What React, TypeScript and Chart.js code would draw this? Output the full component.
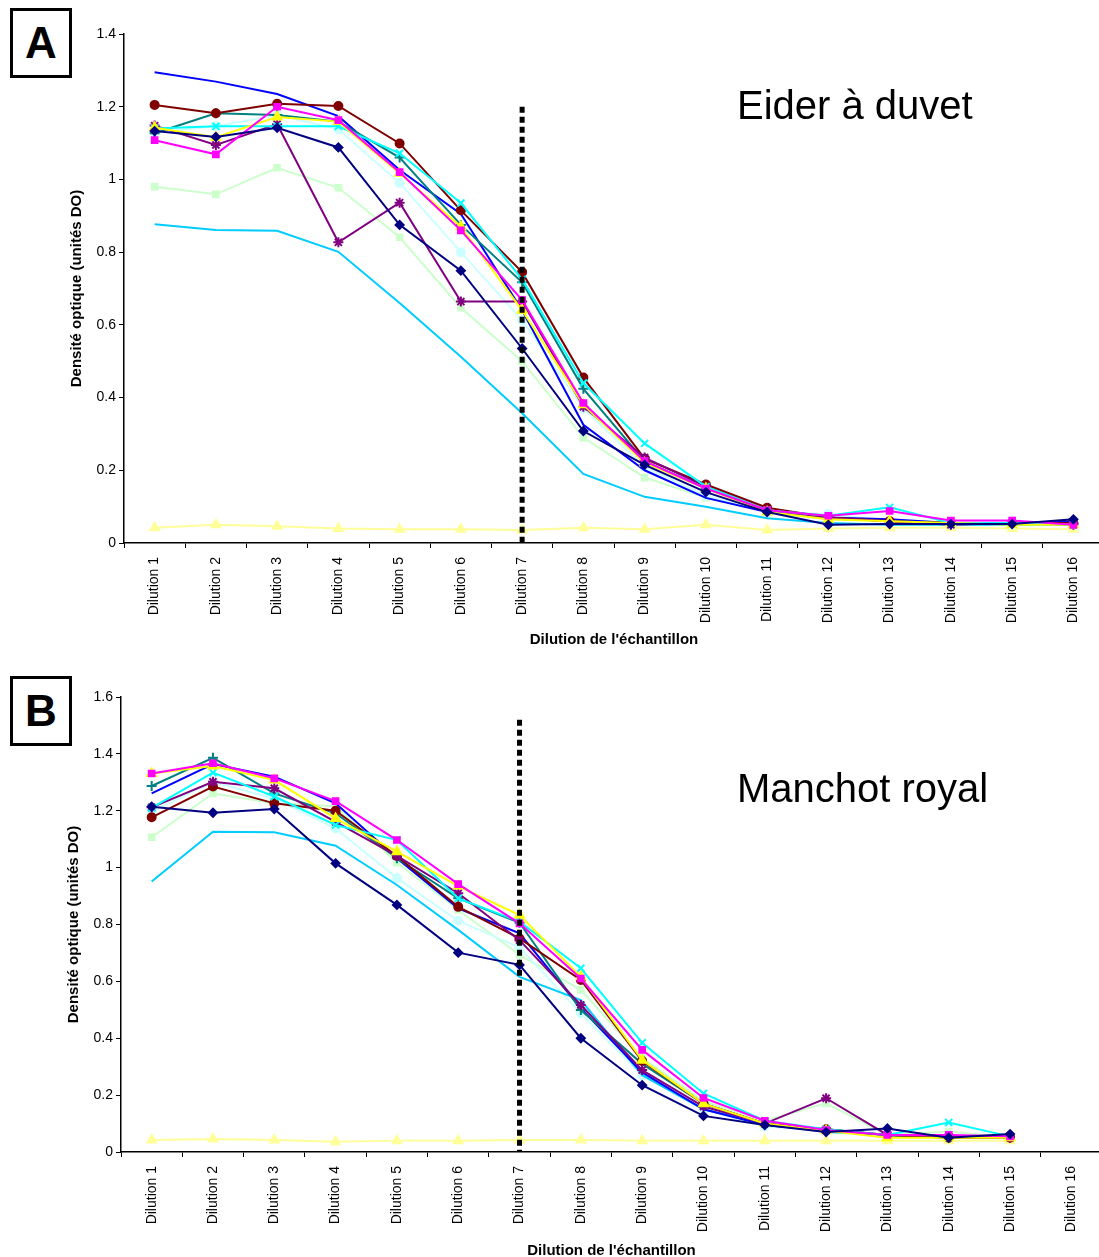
import React, { useEffect, useRef } from 'react';
import { Chart, registerables } from 'chart.js';

Chart.register(...registerables);

// ---------- categories ----------
const dilutions = [
  'Dilution 1', 'Dilution 2', 'Dilution 3', 'Dilution 4', 'Dilution 5', 'Dilution 6',
  'Dilution 7', 'Dilution 8', 'Dilution 9', 'Dilution 10', 'Dilution 11', 'Dilution 12',
  'Dilution 13', 'Dilution 14', 'Dilution 15', 'Dilution 16',
];

// ---------- Panel A : Eider à duvet ----------
const eiderNavy = [1.133, 1.117, 1.142, 1.088, 0.875, 0.749, 0.535, 0.308, 0.215, 0.14, 0.085, 0.05, 0.052, 0.052, 0.052, 0.065];
const eiderMagenta = [1.108, 1.069, 1.2, 1.163, 1.02, 0.86, 0.668, 0.385, 0.225, 0.15, 0.09, 0.075, 0.088, 0.062, 0.062, 0.05];
const eiderYellow = [1.142, 1.116, 1.172, 1.159, 1.017, 0.87, 0.64, 0.38, 0.22, 0.15, 0.085, 0.065, 0.06, 0.055, 0.05, 0.05];
const eiderCyan = [1.14, 1.146, 1.146, 1.146, 1.072, 0.935, 0.725, 0.44, 0.274, 0.155, 0.09, 0.075, 0.098, 0.055, 0.055, 0.05];
const eiderPurple = [1.148, 1.095, 1.152, 0.827, 0.936, 0.664, 0.664, 0.375, 0.235, 0.155, 0.09, 0.07, 0.06, 0.05, 0.055, 0.05];
const eiderDarkRed = [1.205, 1.182, 1.208, 1.202, 1.099, 0.915, 0.745, 0.455, 0.232, 0.161, 0.097, 0.07, 0.06, 0.055, 0.055, 0.055];
const eiderTeal = [1.127, 1.182, 1.177, 1.159, 1.06, 0.875, 0.717, 0.424, 0.225, 0.15, 0.09, 0.07, 0.06, 0.055, 0.055, 0.055];
const eiderBlue = [1.295, 1.269, 1.235, 1.174, 1.026, 0.905, 0.64, 0.325, 0.2, 0.124, 0.085, 0.07, 0.065, 0.055, 0.055, 0.06];
const eiderSkyBlue = [0.877, 0.861, 0.859, 0.801, 0.66, 0.512, 0.357, 0.19, 0.127, 0.1, 0.068, 0.055, 0.05, 0.05, 0.05, 0.05];
const eiderLightCyan = [1.13, 1.146, 1.177, 1.138, 0.99, 0.8, 0.613, 0.37, 0.21, 0.13, 0.085, 0.08, 0.06, 0.05, 0.05, 0.05];
const eiderLightGreen = [0.98, 0.959, 1.032, 0.977, 0.841, 0.647, 0.5, 0.29, 0.18, 0.125, 0.085, 0.065, 0.06, 0.055, 0.05, 0.05];
const eiderLightYellow = [0.042, 0.05, 0.046, 0.04, 0.038, 0.038, 0.036, 0.042, 0.038, 0.05, 0.036, 0.04, 0.042, 0.042, 0.04, 0.038];

// ---------- Panel B : Manchot royal ----------
const manchotNavy = [1.214, 1.193, 1.206, 1.015, 0.869, 0.701, 0.658, 0.4, 0.235, 0.127, 0.095, 0.07, 0.083, 0.05, 0.063, null];
const manchotMagenta = [1.331, 1.367, 1.314, 1.234, 1.097, 0.942, 0.804, 0.61, 0.359, 0.19, 0.11, 0.077, 0.06, 0.06, 0.055, null];
const manchotYellow = [1.331, 1.357, 1.308, 1.173, 1.056, 0.935, 0.833, 0.616, 0.323, 0.17, 0.1, 0.075, 0.05, 0.05, 0.05, null];
const manchotCyan = [1.21, 1.334, 1.25, 1.15, 1.097, 0.892, 0.81, 0.646, 0.384, 0.206, 0.11, 0.08, 0.06, 0.104, 0.055, null];
const manchotPurple = [1.212, 1.302, 1.279, 1.161, 1.041, 0.91, 0.745, 0.517, 0.288, 0.16, 0.1, 0.189, 0.06, 0.055, 0.05, null];
const manchotDarkRed = [1.177, 1.285, 1.226, 1.2, 1.041, 0.862, 0.751, 0.605, 0.32, 0.17, 0.1, 0.08, 0.06, 0.05, 0.05, null];
const manchotTeal = [1.287, 1.386, 1.261, 1.191, 1.033, 0.892, 0.806, 0.499, 0.31, 0.17, 0.1, 0.08, 0.06, 0.055, 0.055, null];
const manchotBlue = [1.261, 1.364, 1.32, 1.226, 1.033, 0.857, 0.769, 0.505, 0.28, 0.15, 0.095, 0.075, 0.06, 0.05, 0.05, null];
const manchotSkyBlue = [0.951, 1.126, 1.124, 1.077, 0.939, 0.781, 0.616, 0.534, 0.27, 0.15, 0.1, 0.07, 0.06, 0.05, 0.05, null];
const manchotLightCyan = [1.197, 1.302, 1.243, 1.138, 0.963, 0.813, 0.72, 0.488, 0.27, 0.15, 0.09, 0.075, 0.06, 0.05, 0.05, null];
const manchotLightGreen = [1.107, 1.261, 1.226, 1.216, 1.017, 0.851, 0.693, 0.57, 0.33, 0.18, 0.11, 0.171, 0.06, 0.072, 0.05, null];
const manchotLightYellow = [0.042, 0.046, 0.042, 0.036, 0.04, 0.04, 0.042, 0.042, 0.04, 0.04, 0.04, 0.04, 0.04, 0.04, 0.04, null];

// ---------- axis / annotation values ----------
const eiderYMax = 1.4;
const manchotYMax = 1.6;
const yStep = 0.2;
const cutoffCategory = 'Dilution 7';
const eiderCutoffTop = 1.2;
const manchotCutoffTop = 1.52;
const yTitle = 'Densité optique (unités DO)';
const xTitle = "Dilution de l'échantillon";

// ---------- series styles (Excel default order) ----------
const seriesStyles = [
  { color: '#000080', point: 'rectRot', r: 4 },
  { color: '#FF00FF', point: 'rect', r: 4 },
  { color: '#FFFF00', point: 'triangle', r: 5 },
  { color: '#00FFFF', point: 'crossRot', r: 5 },
  { color: '#800080', point: 'star', r: 5 },
  { color: '#800000', point: 'circle', r: 4 },
  { color: '#008080', point: 'cross', r: 5 },
  { color: '#0000FF', point: 'circle', r: 0 },
  { color: '#00CCFF', point: 'circle', r: 0 },
  { color: '#CCFFFF', point: 'circle', r: 4 },
  { color: '#CCFFCC', point: 'rect', r: 4 },
  { color: '#FFFF99', point: 'triangle', r: 5 },
];

const eiderSeries = [eiderNavy, eiderMagenta, eiderYellow, eiderCyan, eiderPurple, eiderDarkRed, eiderTeal, eiderBlue, eiderSkyBlue, eiderLightCyan, eiderLightGreen, eiderLightYellow];
const manchotSeries = [manchotNavy, manchotMagenta, manchotYellow, manchotCyan, manchotPurple, manchotDarkRed, manchotTeal, manchotBlue, manchotSkyBlue, manchotLightCyan, manchotLightGreen, manchotLightYellow];

const FONT = 'Arial, "Liberation Sans", Helvetica, sans-serif';

const cutoffPlugin = {
  id: 'cutoffLine',
  afterDatasetsDraw(chart: any, _args: any, opts: any) {
    if (!opts || opts.category == null) return;
    const xs = chart.scales.x;
    const ys = chart.scales.y;
    const x = xs.getPixelForValue(xs.getLabels().indexOf(opts.category));
    const yTop = ys.getPixelForValue(opts.top);
    const yBot = ys.getPixelForValue(0);
    const ctx = chart.ctx;
    ctx.save();
    ctx.strokeStyle = '#000';
    ctx.lineWidth = 5;
    ctx.setLineDash([6, 4]);
    ctx.beginPath();
    ctx.moveTo(x, yTop);
    ctx.lineTo(x, yBot);
    ctx.stroke();
    ctx.restore();
  },
};

type PanelProps = {
  series: (number | null)[][];
  yMax: number;
  cutoffTop: number;
  top: number;
  width: number;
  height: number;
  padLeft: number;
  padTop: number;
  padRight: number;
  yAxisWidth: number;
  xAxisHeight: number;
};

function Panel(p: PanelProps) {
  const ref = useRef<HTMLCanvasElement | null>(null);
  useEffect(() => {
    if (!ref.current) return;
    const datasets = p.series.map((vals, i) => {
      const s = seriesStyles[i];
      return {
        label: 'Série ' + (i + 1),
        data: vals,
        borderColor: s.color,
        backgroundColor: s.color,
        borderWidth: 2,
        pointStyle: s.point,
        pointRadius: s.r,
        pointBorderColor: s.color,
        pointBackgroundColor: s.color,
        pointBorderWidth: 2,
        tension: 0,
        spanGaps: false,
      };
    });
    const chart = new Chart(ref.current, {
      type: 'line',
      data: { labels: dilutions, datasets: datasets as any },
      plugins: [cutoffPlugin as any],
      options: {
        responsive: false,
        animation: false,
        devicePixelRatio: 1,
        layout: { padding: { left: p.padLeft, top: p.padTop, right: p.padRight, bottom: 0 } },
        plugins: {
          legend: { display: false },
          tooltip: { enabled: false },
          cutoffLine: { category: cutoffCategory, top: p.cutoffTop },
        } as any,
        scales: {
          x: {
            type: 'category',
            offset: true,
            grid: { offset: true, drawOnChartArea: false, tickLength: 5, color: '#000', lineWidth: 1 },
            border: { color: '#000', width: 1.5 },
            ticks: {
              minRotation: 90,
              maxRotation: 90,
              autoSkip: false,
              padding: 9,
              color: '#000',
              font: { family: FONT, size: 14 },
            },
            title: {
              display: true,
              text: xTitle,
              color: '#000',
              font: { family: FONT, size: 15, weight: 'bold' },
              padding: { top: 2, bottom: 2 },
            },
            afterFit: (scale: any) => { scale.height = p.xAxisHeight; },
          },
          y: {
            type: 'linear',
            min: 0,
            max: p.yMax,
            grid: { drawOnChartArea: false, tickLength: 5, color: '#000', lineWidth: 1 },
            border: { color: '#000', width: 1.5 },
            ticks: {
              stepSize: yStep,
              padding: 3,
              color: '#000',
              font: { family: FONT, size: 14 },
              callback: (v: any) => String(Number(Number(v).toFixed(1))),
            },
            title: {
              display: true,
              text: yTitle,
              color: '#000',
              font: { family: FONT, size: 15, weight: 'bold' },
              padding: { top: 4, bottom: 4 },
            },
            afterFit: (scale: any) => { scale.width = p.yAxisWidth; },
          },
        },
      } as any,
    });
    return () => chart.destroy();
  }, []);
  return (
    <canvas
      ref={ref}
      width={p.width}
      height={p.height}
      style={{ position: 'absolute', left: 0, top: p.top, width: p.width, height: p.height, display: 'block' }}
    />
  );
}

const boxStyle = (top: number): React.CSSProperties => ({
  position: 'absolute',
  left: 10,
  top,
  width: 62,
  height: 70,
  border: '3px solid #000',
  boxSizing: 'border-box',
  display: 'flex',
  alignItems: 'center',
  justifyContent: 'center',
  fontFamily: FONT,
  fontWeight: 'bold',
  fontSize: 44,
  lineHeight: 1,
  color: '#000',
  background: '#fff',
});

const titleStyle = (top: number): React.CSSProperties => ({
  position: 'absolute',
  left: 737,
  top,
  fontFamily: FONT,
  fontSize: 40,
  lineHeight: '40px',
  color: '#000',
  whiteSpace: 'nowrap',
});

export default function App() {
  return (
    <div style={{ position: 'absolute', left: 0, top: 0, width: 1099, height: 1257, overflow: 'hidden', background: '#fff' }}>
      <Panel
        series={eiderSeries}
        yMax={eiderYMax}
        cutoffTop={eiderCutoffTop}
        top={0}
        width={1112}
        height={651}
        padLeft={64}
        padTop={34}
        padRight={8}
        yAxisWidth={60}
        xAxisHeight={108}
      />
      <Panel
        series={manchotSeries}
        yMax={manchotYMax}
        cutoffTop={manchotCutoffTop}
        top={651}
        width={1112}
        height={611}
        padLeft={61}
        padTop={46}
        padRight={10}
        yAxisWidth={60}
        xAxisHeight={110}
      />
      <div style={boxStyle(8)}>A</div>
      <div style={boxStyle(676)}>B</div>
      <div style={titleStyle(85)}>Eider à duvet</div>
      <div style={titleStyle(768)}>Manchot royal</div>
    </div>
  );
}
